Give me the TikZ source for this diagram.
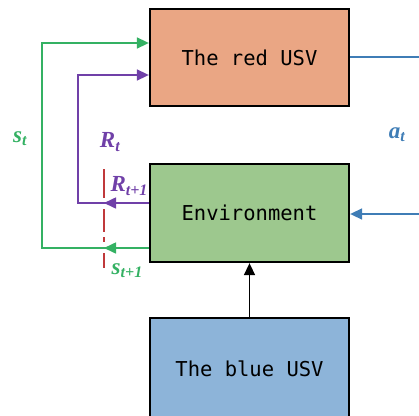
\documentclass[tikz,border=0pt]{standalone}
\usepackage{fontspec}
\setmainfont{Liberation Serif}
\newfontfamily\boxfont{DejaVu Sans Mono}
\usetikzlibrary{arrows.meta}
\definecolor{redfill}{HTML}{EAA684}
\definecolor{greenfill}{HTML}{9DC88E}
\definecolor{bluefill}{HTML}{8DB4D9}
\definecolor{gcol}{HTML}{34B163}
\definecolor{pcol}{HTML}{7040A8}
\definecolor{rcol}{HTML}{C0393B}
\definecolor{bcol}{HTML}{3F7DB6}
\newcommand\lbl[2]{\textbf{\textit{#1}}\raisebox{-0.3ex}{\fontsize{16}{17}\selectfont\textbf{\textit{#2}}}}
\begin{document}
\begin{tikzpicture}[x=1pt,y=-1pt,
  box/.style={draw=black, line width=2.3pt, minimum width=199pt, inner sep=0pt,
    font=\boxfont\fontsize{20.5}{24}\selectfont},
  conn/.style={line width=1.6pt},
  tip/.style={-{Triangle[length=12pt,width=11pt]}},
  lab/.style={font=\fontsize{23}{26}\selectfont, inner sep=0pt}]
\useasboundingbox (0,0) rectangle (419,415);
\clip (0,0) rectangle (419,415);
% boxes
\node[box, fill=redfill, minimum height=97pt] (red) at (249.5,57.5) {The red USV};
\node[box, fill=greenfill, minimum height=98pt] (env) at (249.5,213) {Environment};
\node[box, fill=bluefill, minimum height=110pt] (blue) at (249.5,373) {\raisebox{8pt}{The blue USV}};
% free ends
\coordinate (gc1) at (42,248);
\coordinate (gc2) at (42,43);
\coordinate (pc1) at (78,203);
\coordinate (pc2) at (78,75);
\coordinate (gm) at (104,248);
\coordinate (pm) at (104,203);
\coordinate (br1) at (425,57);
\coordinate (br2) at (425,214);
% red dashed marker
\draw[rcol, line width=1.6pt] (104,169) -- (104,198);
\draw[rcol, line width=1.6pt] (104,209) -- (104,232);
\draw[rcol, line width=1.6pt] (104,237) -- (104,242);
\draw[rcol, line width=1.6pt] (104,253) -- (104,268);
% green loop
\draw[conn, gcol, tip] (env.west |- gc1) -- (gc1) -- (gc2) -- (red.west |- gc2);
\draw[conn, gcol, tip] (env.west |- gc1) -- (gm);
% purple loop
\draw[conn, pcol, tip] (env.west |- pc1) -- (pc1) -- (pc2) -- (red.west |- pc2);
\draw[conn, pcol, tip] (env.west |- pc1) -- (pm);
% blue action
\draw[conn, bcol] (red.east |- br1) -- (br1);
\draw[conn, bcol, tip] (br2) -- (env.east |- br2);
% blue USV to env
\draw[conn, black, tip] (blue.north) -- (env.south);
% labels
\node[lab, text=gcol] (st) at (20,139) {\lbl{s}{t}};
\node[lab, text=pcol] (rt) at (110,142) {\lbl{R}{t}};
\node[lab, text=pcol] (rt1) at (129,186) {\lbl{R}{t+1}};
\node[lab, text=gcol] (st1) at (127,271) {\lbl{s}{t+1}};
\node[lab, text=bcol] (at) at (397,135) {\lbl{a}{t}};
\end{tikzpicture}
\end{document}
